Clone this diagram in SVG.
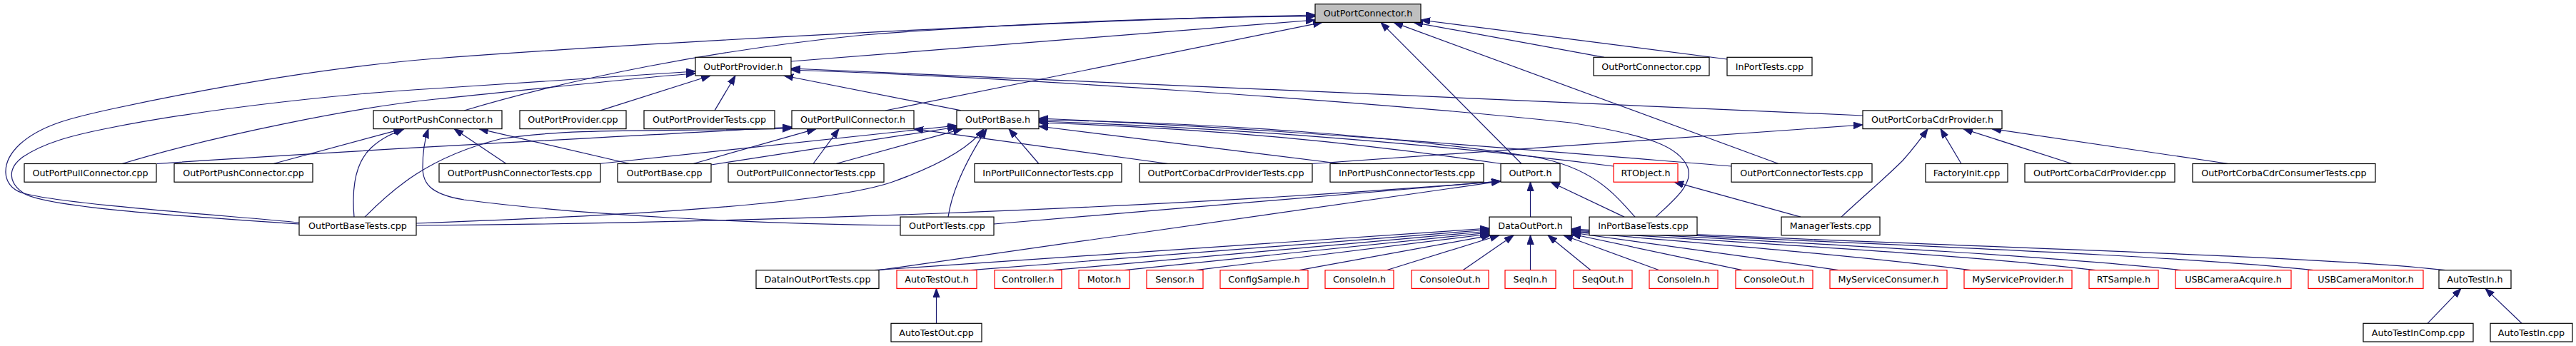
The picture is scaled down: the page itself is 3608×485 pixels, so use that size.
<svg xmlns="http://www.w3.org/2000/svg" width="3608" height="485" viewBox="0 0 3608 485">
<style>
.n rect{fill:#fff;stroke:#000;stroke-width:1.2}
.r rect{fill:#fff;stroke:#f00;stroke-width:1.2}
.root rect{fill:#bfbfbf;stroke:#000;stroke-width:1.2}
text{font-family:"DejaVu Sans",sans-serif;font-size:12.7px;fill:#000;text-anchor:middle}
.e path{fill:none;stroke:#191970;stroke-width:1.2;marker-end:url(#arr)}
</style>
<defs>
<marker id="arr" markerWidth="14" markerHeight="10" refX="13" refY="4.7" orient="auto" markerUnits="userSpaceOnUse">
<path d="M0,0 L13,4.7 L0,9.4 z" fill="#191970" stroke="#191970" stroke-width="1"/>
</marker>
</defs>
<rect width="3608" height="485" fill="#fff"/>
<g id="edges" class="e">
<path d="M419,312 C330,303 80,286 30,270 C2,260 0,228 28,202 C58,175 100,165 160,152 C300,122 450,95 610,82 C900,60 1500,28 1842,21"/>
<path d="M419,314 C300,306 60,292 32,270 C12,256 10,236 32,220 C62,200 100,190 150,180 C300,150 500,130 610,124 C750,115 900,104 974,100"/>
<path d="M650,155 C800,110 1000,70 1210,49 C1450,30 1700,23 1842,23"/>
<path d="M1108,86 L1842,28"/>
<path d="M1240,155 L1852,31.4"/>
<path d="M2131,229.5 L1934,31.4"/>
<path d="M2491,229.5 L1952,31.4"/>
<path d="M2247,80.3 L1980,31.4"/>
<path d="M2419,83 L1990,28"/>
<path d="M171,229.5 C300,190 500,150 610,139 C750,125 900,108 974,103"/>
<path d="M841,154.9 L995,106"/>
<path d="M1001,154.9 L1030,106"/>
<path d="M1346,154.9 L1098,106"/>
<path d="M2609,162 L1108,96"/>
<path d="M2319,304.1 C2345,280 2372,258 2364,235 C2352,205 2310,190 2200,172 C1900,140 1400,108 1108,98"/>
<path d="M383,229.5 L564,180.6"/>
<path d="M496,304.1 C493,270 495,230 520,207 C535,193 550,187 566,180.6"/>
<path d="M1261,316 C1050,314 800,300 650,280 C600,272 592,255 592,235 C592,210 595,195 600,180.6"/>
<path d="M709,229.5 L636,180.6"/>
<path d="M882,229.5 L671,180.6"/>
<path d="M220,229.5 C500,210 900,190 1109,178"/>
<path d="M511,304.1 C550,265 600,220 700,195 C800,178 950,185 1109,180"/>
<path d="M971,229.5 L1143,180.6"/>
<path d="M1139,229.5 L1175,180.6"/>
<path d="M1636,229.5 L1280,180.6"/>
<path d="M839,229.5 L1340,176"/>
<path d="M996,231 L1340,178"/>
<path d="M1171,229.5 L1348,180.6"/>
<path d="M583,313 C800,305 1150,290 1250,255 C1320,230 1360,205 1378,180.6"/>
<path d="M1328,304.1 C1333,270 1350,230 1382,180.6"/>
<path d="M1455,229.5 L1413,180.6"/>
<path d="M1878,229.5 L1455,177"/>
<path d="M2103,229.5 C1900,200 1700,180 1455,172"/>
<path d="M2260,233 C2000,200 1700,178 1455,170"/>
<path d="M2290,304.1 C2260,270 2230,235 2150,220 C1950,190 1700,172 1455,168"/>
<path d="M2425,233 C2200,215 1800,180 1455,166"/>
<path d="M583,316 C1000,313 1600,295 2102,254"/>
<path d="M1392,314 L2102,254"/>
<path d="M1231,378.7 L2102,254"/>
<path d="M2143.5,304.1 L2143.5,255.2"/>
<path d="M2275,304.1 L2172,255.2"/>
<path d="M2522,304.1 L2345,255.2"/>
<path d="M1838,229.5 L2609,175"/>
<path d="M2579,304.1 C2610,275 2640,250 2665,225 C2680,208 2690,195 2700,180.6"/>
<path d="M2747,229.5 L2718,180.6"/>
<path d="M2902,229.5 L2750,180.6"/>
<path d="M3121,229.5 L2790,180.6"/>
<path d="M1225,378.7 L2086,320"/>
<path d="M1360,378.7 L2086,322"/>
<path d="M1475,378.7 L2086,324"/>
<path d="M1575,378.7 L2086,326"/>
<path d="M1675,378.7 L2086,328"/>
<path d="M1820,378.7 L2088,329.8"/>
<path d="M1942,378.7 L2100,329.8"/>
<path d="M2049,378.7 L2120,329.8"/>
<path d="M2143.5,378.7 L2143.5,329.8"/>
<path d="M2228,378.7 L2168,329.8"/>
<path d="M2324,378.7 L2190,329.8"/>
<path d="M2440,378.7 L2201,328"/>
<path d="M2575,378.7 C2450,360 2300,340 2201,326"/>
<path d="M2760,378.7 C2600,358 2350,338 2201,325"/>
<path d="M2935,378.7 C2750,356 2400,338 2201,324"/>
<path d="M3055,378.7 C2850,356 2450,337 2201,323"/>
<path d="M3240,378.7 C3050,357 2550,340 2201,322"/>
<path d="M3425,378.7 C3250,358 2700,345 2201,321"/>
<path d="M1311.5,453.3 L1311.5,404.4"/>
<path d="M3400,453.3 L3447,404.4"/>
<path d="M3532,453.3 L3481,404.4"/>
</g>
<g id="OutPortConnector_h" class="root"><rect x="1842" y="5.7" width="148" height="25.7"/><text x="1916" y="23">OutPortConnector.h</text></g>
<g id="OutPortProvider_h" class="n"><rect x="974" y="80.3" width="134" height="25.7"/><text x="1041" y="97.6">OutPortProvider.h</text></g>
<g id="OutPortConnector_cpp" class="n"><rect x="2232" y="80.3" width="162" height="25.7"/><text x="2313" y="97.6">OutPortConnector.cpp</text></g>
<g id="InPortTests_cpp" class="n"><rect x="2419" y="80.3" width="119" height="25.7"/><text x="2478.5" y="97.6">InPortTests.cpp</text></g>
<g id="OutPortPushConnector_h" class="n"><rect x="523" y="154.9" width="180" height="25.7"/><text x="613" y="172.2">OutPortPushConnector.h</text></g>
<g id="OutPortProvider_cpp" class="n"><rect x="728" y="154.9" width="149" height="25.7"/><text x="802.5" y="172.2">OutPortProvider.cpp</text></g>
<g id="OutPortProviderTests_cpp" class="n"><rect x="902" y="154.9" width="183" height="25.7"/><text x="993.5" y="172.2">OutPortProviderTests.cpp</text></g>
<g id="OutPortPullConnector_h" class="n"><rect x="1109" y="154.9" width="171" height="25.7"/><text x="1194.5" y="172.2">OutPortPullConnector.h</text></g>
<g id="OutPortBase_h" class="n"><rect x="1340" y="154.9" width="115" height="25.7"/><text x="1397.5" y="172.2">OutPortBase.h</text></g>
<g id="OutPortCorbaCdrProvider_h" class="n"><rect x="2609" y="154.9" width="195" height="25.7"/><text x="2706.5" y="172.2">OutPortCorbaCdrProvider.h</text></g>
<g id="OutPortPullConnector_cpp" class="n"><rect x="34" y="229.5" width="185" height="25.7"/><text x="126.5" y="246.8">OutPortPullConnector.cpp</text></g>
<g id="OutPortPushConnector_cpp" class="n"><rect x="244" y="229.5" width="194" height="25.7"/><text x="341" y="246.8">OutPortPushConnector.cpp</text></g>
<g id="OutPortPushConnectorTests_cpp" class="n"><rect x="615" y="229.5" width="226" height="25.7"/><text x="728" y="246.8">OutPortPushConnectorTests.cpp</text></g>
<g id="OutPortBase_cpp" class="n"><rect x="865" y="229.5" width="131" height="25.7"/><text x="930.5" y="246.8">OutPortBase.cpp</text></g>
<g id="OutPortPullConnectorTests_cpp" class="n"><rect x="1020" y="229.5" width="218" height="25.7"/><text x="1129" y="246.8">OutPortPullConnectorTests.cpp</text></g>
<g id="InPortPullConnectorTests_cpp" class="n"><rect x="1365" y="229.5" width="206" height="25.7"/><text x="1468" y="246.8">InPortPullConnectorTests.cpp</text></g>
<g id="OutPortCorbaCdrProviderTests_cpp" class="n"><rect x="1596" y="229.5" width="242" height="25.7"/><text x="1717" y="246.8">OutPortCorbaCdrProviderTests.cpp</text></g>
<g id="InPortPushConnectorTests_cpp" class="n"><rect x="1863" y="229.5" width="215" height="25.7"/><text x="1970.5" y="246.8">InPortPushConnectorTests.cpp</text></g>
<g id="OutPort_h" class="n"><rect x="2102" y="229.5" width="83" height="25.7"/><text x="2143.5" y="246.8">OutPort.h</text></g>
<g id="RTObject_h" class="r"><rect x="2260" y="229.5" width="90" height="25.7"/><text x="2305" y="246.8">RTObject.h</text></g>
<g id="OutPortConnectorTests_cpp" class="n"><rect x="2425" y="229.5" width="197" height="25.7"/><text x="2523.5" y="246.8">OutPortConnectorTests.cpp</text></g>
<g id="FactoryInit_cpp" class="n"><rect x="2697" y="229.5" width="115" height="25.7"/><text x="2754.5" y="246.8">FactoryInit.cpp</text></g>
<g id="OutPortCorbaCdrProvider_cpp" class="n"><rect x="2836" y="229.5" width="210" height="25.7"/><text x="2941" y="246.8">OutPortCorbaCdrProvider.cpp</text></g>
<g id="OutPortCorbaCdrConsumerTests_cpp" class="n"><rect x="3071" y="229.5" width="256" height="25.7"/><text x="3199" y="246.8">OutPortCorbaCdrConsumerTests.cpp</text></g>
<g id="OutPortBaseTests_cpp" class="n"><rect x="419" y="304.1" width="164" height="25.7"/><text x="501" y="321.4">OutPortBaseTests.cpp</text></g>
<g id="OutPortTests_cpp" class="n"><rect x="1261" y="304.1" width="131" height="25.7"/><text x="1326.5" y="321.4">OutPortTests.cpp</text></g>
<g id="DataOutPort_h" class="n"><rect x="2086" y="304.1" width="115" height="25.7"/><text x="2143.5" y="321.4">DataOutPort.h</text></g>
<g id="InPortBaseTests_cpp" class="n"><rect x="2226" y="304.1" width="151" height="25.7"/><text x="2301.5" y="321.4">InPortBaseTests.cpp</text></g>
<g id="ManagerTests_cpp" class="n"><rect x="2495" y="304.1" width="138" height="25.7"/><text x="2564" y="321.4">ManagerTests.cpp</text></g>
<g id="DataInOutPortTests_cpp" class="n"><rect x="1059" y="378.7" width="172" height="25.7"/><text x="1145" y="396">DataInOutPortTests.cpp</text></g>
<g id="AutoTestOut_h" class="r"><rect x="1256" y="378.7" width="112" height="25.7"/><text x="1312" y="396">AutoTestOut.h</text></g>
<g id="Controller_h" class="r"><rect x="1393" y="378.7" width="94" height="25.7"/><text x="1440" y="396">Controller.h</text></g>
<g id="Motor_h" class="r"><rect x="1511" y="378.7" width="71" height="25.7"/><text x="1546.5" y="396">Motor.h</text></g>
<g id="Sensor_h" class="r"><rect x="1606" y="378.7" width="79" height="25.7"/><text x="1645.5" y="396">Sensor.h</text></g>
<g id="ConfigSample_h" class="r"><rect x="1709" y="378.7" width="123" height="25.7"/><text x="1770.5" y="396">ConfigSample.h</text></g>
<g id="ConsoleIn_h_1" class="r"><rect x="1856" y="378.7" width="96" height="25.7"/><text x="1904" y="396">ConsoleIn.h</text></g>
<g id="ConsoleOut_h_1" class="r"><rect x="1977" y="378.7" width="108" height="25.7"/><text x="2031" y="396">ConsoleOut.h</text></g>
<g id="SeqIn_h" class="r"><rect x="2108" y="378.7" width="71" height="25.7"/><text x="2143.5" y="396">SeqIn.h</text></g>
<g id="SeqOut_h" class="r"><rect x="2204" y="378.7" width="82" height="25.7"/><text x="2245" y="396">SeqOut.h</text></g>
<g id="ConsoleIn_h_2" class="r"><rect x="2310" y="378.7" width="96" height="25.7"/><text x="2358" y="396">ConsoleIn.h</text></g>
<g id="ConsoleOut_h_2" class="r"><rect x="2431" y="378.7" width="108" height="25.7"/><text x="2485" y="396">ConsoleOut.h</text></g>
<g id="MyServiceConsumer_h" class="r"><rect x="2563" y="378.7" width="164" height="25.7"/><text x="2645" y="396">MyServiceConsumer.h</text></g>
<g id="MyServiceProvider_h" class="r"><rect x="2751" y="378.7" width="151" height="25.7"/><text x="2826.5" y="396">MyServiceProvider.h</text></g>
<g id="RTSample_h" class="r"><rect x="2926" y="378.7" width="97" height="25.7"/><text x="2974.5" y="396">RTSample.h</text></g>
<g id="USBCameraAcquire_h" class="r"><rect x="3047" y="378.7" width="162" height="25.7"/><text x="3128" y="396">USBCameraAcquire.h</text></g>
<g id="USBCameraMonitor_h" class="r"><rect x="3233" y="378.7" width="161" height="25.7"/><text x="3313.5" y="396">USBCameraMonitor.h</text></g>
<g id="AutoTestIn_h" class="n"><rect x="3416" y="378.7" width="101" height="25.7"/><text x="3466.5" y="396">AutoTestIn.h</text></g>
<g id="AutoTestOut_cpp" class="n"><rect x="1248" y="453.3" width="127" height="25.7"/><text x="1311.5" y="470.6">AutoTestOut.cpp</text></g>
<g id="AutoTestInComp_cpp" class="n"><rect x="3310" y="453.3" width="154" height="25.7"/><text x="3387" y="470.6">AutoTestInComp.cpp</text></g>
<g id="AutoTestIn_cpp" class="n"><rect x="3488" y="453.3" width="115" height="25.7"/><text x="3545.5" y="470.6">AutoTestIn.cpp</text></g>
</svg>
